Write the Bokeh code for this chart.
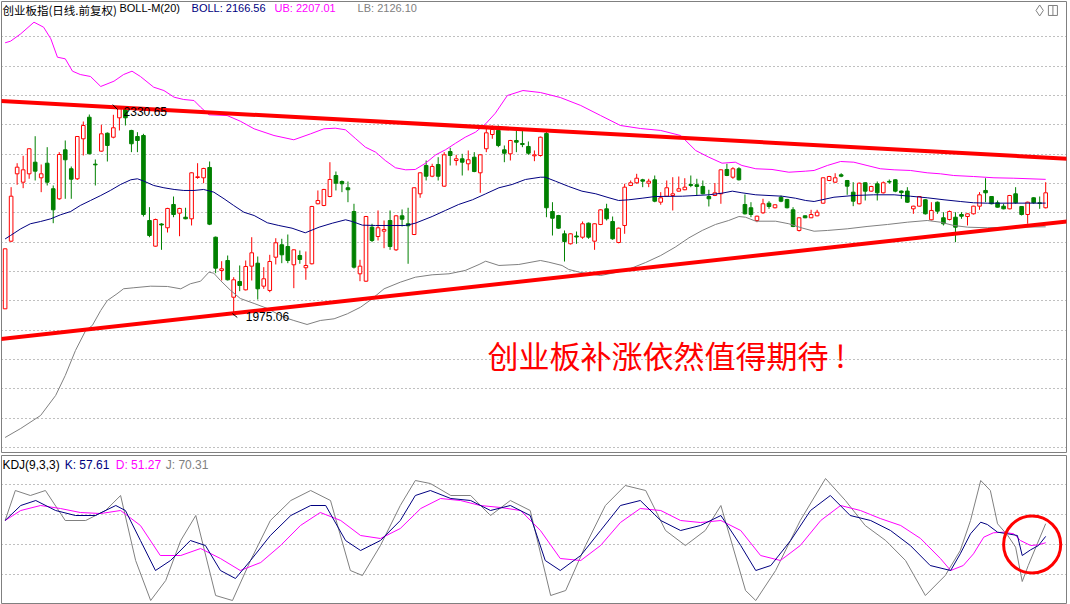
import numpy as np
from bokeh.plotting import figure
from bokeh.layouts import column
from bokeh.models import Range1d, Label, FixedTicker
from bokeh.embed import file_html
from bokeh.resources import INLINE

# ---------------- data (daily candles, ChiNext index) ----------------
opens = [1986.3,2101.6,2216.5,2202.2,2216.5,2236.3,2209.7,2234.6,2191.0,2173.9,
 2257.4,2225.1,2208.0,2276.2,2313.0,2232.9,2255.1,2285.7,2278.9,2312.0,
 2327.4,2290.4,2280.1,2281.8,2136.9,2093.1,2130.9,2124.5,2164.2,2149.4,
 2142.5,2139.8,2210.2,2209.7,2227.3,2108.4,2051.7,2068.7,2006.1,2032.9,
 2018.7,2059.0,2064.1,2024.9,2017.6,2074.3,2095.5,2092.6,2061.4,2077.2,
 2056.3,2063.1,2165.4,2162.5,2177.8,2213.6,2203.4,2192.7,2152.2,2046.0,
 2033.4,2125.5,2109.6,2118.7,2136.9,2086.9,2144.9,2131.3,2113.0,2182.4,
 2230.7,2212.4,2232.4,2195.4,2254.5,2239.2,2242.1,2233.6,2244.8,2218.2,
 2259.2,2283.5,2290.4,2257.4,2250.6,2273.3,2268.2,2263.1,2247.2,2247.7,
 2285.2,2152.2,2145.4,2114.2,2097.2,2110.5,2108.4,2132.3,2101.6,2130.1,
 2156.8,2135.2,2099.4,2128.4,2196.6,2201.2,2206.3,2200.5,2206.3,2168.1,
 2178.3,2179.5,2186.9,2189.3,2198.3,2197.8,2194.9,2177.8,2179.5,2182.4,
 2223.9,2210.7,2225.1,2164.2,2158.6,2136.9,2150.0,2166.4,2158.6,2176.6,
 2172.7,2155.1,2119.9,2144.9,2141.5,2144.9,2166.4,2205.1,2202.2,2214.8,
 2205.1,2185.2,2165.4,2201.2,2186.9,2199.5,2184.1,2203.4,2206.3,2187.1,
 2187.1,2156.8,2161.3,2172.2,2138.1,2168.1,2141.5,2138.6,2142.5,2147.1,
 2143.7,2148.3,2161.3,2188.1,2177.8,2167.1,2161.3,2156.8,2182.4,2160.8,
 2147.1,2175.6,2166.9,2158.6]
highs = [2089.2,2193.7,2234.6,2247.2,2260.0,2280.6,2232.4,2261.9,2196.6,2253.4,
 2273.3,2229.0,2281.0,2305.7,2317.6,2240.9,2300.1,2287.0,2317.1,2330.65,
 2328.5,2291.5,2287.5,2284.7,2159.6,2140.0,2132.3,2158.5,2177.8,2158.5,
 2158.6,2219.3,2234.6,2226.7,2237.5,2109.5,2067.5,2077.2,2040.2,2060.2,
 2068.7,2108.4,2075.5,2057.3,2078.4,2106.7,2105.7,2113.0,2088.0,2085.8,
 2084.1,2161.8,2188.1,2190.8,2236.3,2220.4,2205.1,2203.4,2165.4,2069.9,
 2144.7,2131.3,2154.0,2136.9,2154.0,2145.9,2155.7,2158.6,2193.7,2219.2,
 2239.2,2233.6,2244.8,2253.4,2260.9,2248.9,2250.6,2256.3,2253.4,2250.0,
 2295.0,2298.9,2298.9,2264.8,2274.3,2290.4,2290.4,2271.6,2256.3,2279.9,
 2288.6,2168.1,2146.5,2119.9,2115.2,2118.1,2135.2,2133.4,2132.3,2156.1,
 2165.4,2143.7,2124.8,2199.5,2205.1,2216.5,2208.0,2208.0,2213.6,2185.2,
 2205.1,2210.7,2211.9,2209.0,2213.6,2208.0,2205.1,2189.3,2200.8,2224.3,
 2233.6,2227.8,2227.8,2181.2,2168.1,2145.2,2173.9,2169.8,2164.5,2179.5,
 2173.8,2159.6,2142.5,2145.4,2155.1,2155.1,2210.5,2213.0,2217.5,2217.5,
 2206.0,2202.2,2201.5,2202.0,2196.0,2203.4,2203.4,2206.8,2207.0,2188.0,
 2193.7,2162.0,2178.5,2173.0,2168.1,2169.3,2151.0,2154.0,2151.0,2151.0,
 2149.0,2162.0,2185.2,2209.0,2178.5,2171.0,2165.4,2180.5,2193.7,2161.5,
 2169.0,2176.6,2177.8,2202.2]
lows = [1986.0,2100.0,2197.8,2192.0,2208.0,2205.1,2185.2,2196.6,2132.3,2172.0,
 2173.9,2173.9,2206.0,2247.7,2250.0,2196.6,2254.0,2237.5,2277.0,2290.4,
 2298.9,2253.4,2253.4,2143.7,2108.4,2092.0,2086.9,2116.4,2142.5,2110.1,
 2139.0,2128.4,2208.0,2200.5,2129.0,2047.0,2034.6,2034.6,1975.06,2016.4,
 2017.6,2034.6,2002.2,2020.4,2014.6,2061.9,2064.1,2064.1,2021.5,2063.1,
 2035.8,2062.0,2164.5,2161.3,2176.5,2188.1,2185.2,2168.1,2055.0,2033.4,
 2032.0,2100.0,2102.8,2089.7,2086.9,2085.0,2126.7,2063.1,2112.0,2175.6,
 2205.1,2210.7,2205.1,2194.0,2230.7,2230.7,2213.6,2222.2,2219.2,2184.1,
 2253.4,2276.2,2261.9,2236.3,2239.2,2253.4,2261.9,2248.9,2238.0,2246.0,
 2142.5,2111.3,2122.7,2067.0,2096.0,2097.2,2105.7,2105.7,2086.9,2129.0,
 2136.9,2104.0,2098.0,2114.2,2195.5,2199.5,2193.7,2193.7,2168.0,2163.7,
 2177.0,2154.0,2186.0,2188.5,2193.7,2179.5,2181.5,2160.8,2178.5,2165.4,
 2212.5,2208.0,2205.1,2147.1,2142.5,2134.0,2148.3,2156.8,2157.5,2168.1,
 2157.5,2125.5,2118.1,2140.8,2141.0,2144.0,2165.5,2204.0,2201.0,2210.7,
 2180.7,2161.3,2164.5,2171.0,2186.0,2171.0,2183.0,2199.5,2185.0,2173.9,
 2167.0,2148.3,2160.5,2147.0,2137.0,2148.3,2128.4,2137.0,2100.0,2139.8,
 2128.4,2147.1,2155.1,2168.1,2164.5,2159.0,2156.0,2156.0,2165.4,2145.4,
 2131.3,2165.4,2156.8,2157.5]
closes = [2088.6,2178.3,2227.8,2223.3,2259.2,2221.0,2216.5,2202.2,2155.1,2249.4,
 2240.4,2207.3,2280.1,2298.9,2250.6,2231.9,2284.7,2264.8,2295.0,2327.4,
 2312.0,2267.7,2273.3,2147.1,2111.3,2138.6,2129.2,2157.4,2147.1,2157.4,
 2139.8,2218.2,2211.4,2225.6,2130.6,2055.6,2054.5,2035.8,2035.8,2026.1,
 2058.5,2081.8,2020.4,2037.5,2067.0,2098.9,2078.4,2068.7,2086.9,2070.4,
 2060.2,2160.8,2171.0,2189.8,2206.8,2200.5,2199.5,2189.3,2057.3,2059.0,
 2143.7,2102.8,2124.5,2121.6,2092.6,2144.9,2139.1,2127.9,2192.7,2218.2,
 2212.4,2229.0,2212.4,2248.9,2247.7,2242.1,2236.3,2240.4,2220.4,2248.9,
 2286.4,2292.1,2264.8,2251.6,2273.3,2270.4,2266.5,2251.6,2248.9,2278.9,
 2158.6,2140.8,2123.8,2101.1,2114.2,2108.8,2131.3,2108.4,2131.3,2155.1,
 2139.8,2105.7,2123.8,2193.7,2201.2,2209.0,2203.9,2203.9,2169.8,2175.6,
 2192.7,2182.4,2191.0,2193.7,2196.6,2194.9,2182.4,2173.9,2184.1,2223.3,
 2213.6,2225.1,2206.3,2148.3,2147.1,2144.2,2165.4,2160.8,2163.7,2169.8,
 2158.6,2126.7,2141.5,2141.5,2147.1,2151.0,2209.7,2211.9,2209.7,2212.4,
 2195.4,2169.8,2200.5,2186.9,2194.9,2184.1,2201.2,2202.5,2186.9,2184.4,
 2168.1,2161.3,2177.8,2148.3,2154.0,2152.8,2131.3,2152.2,2125.5,2144.2,
 2148.3,2161.3,2180.7,2184.1,2165.4,2159.6,2156.8,2179.5,2167.1,2147.1,
 2168.1,2167.1,2166.0,2184.1]

# BOLL(20) bands, sampled at candle positions
boll_x = [0,0.9,2.6,4.2,5.9,7.6,9.2,10.9,12.5,14.2,15.9,17.5,19.2,20.9,22.0,23.1,24.7,26.4,28.1,29.7,
 31.4,33.0,34.7,36.4,38.0,39.7,41.4,43.6,45.5,47.7,49.9,52.2,54.4,56.6,57.7,59.4,61.6,66.6,68.2,71.0,
 73.2,75.4,77.7,79.9,82.1,84.3,86.5,89.0,89.8,91.5,93.7,95.9,98.2,100.4,102.0,103.7,105.9,108.1,112.6,117.0,
 119.2,120.9,122.5,124.8,127.0,129.2,131.4,133.1,134.5,137.8,141.1,144.4,147.8,150.5,153.3,156.1,158.8,161.0,163.3,173]
boll_mid = [2105.4,2111.3,2122.7,2131.3,2135.2,2139.8,2146.6,2152.2,2162.5,2171.0,2179.5,2188.1,2198.3,2206.3,2208.0,2203.9,2196.6,2192.7,2189.8,2188.1,
 2188.1,2189.8,2185.2,2173.9,2162.5,2151.0,2145.4,2133.0,2128.4,2123.8,2115.9,2125.5,2132.3,2138.1,2135.2,2128.9,2128.4,2128.4,2132.3,2143.7,
 2154.0,2164.2,2172.2,2182.4,2192.7,2198.3,2206.8,2210.7,2210.7,2203.9,2194.9,2186.9,2182.4,2175.6,2171.0,2172.2,2174.9,2177.8,2178.3,2180.7,
 2183.5,2186.9,2184.1,2180.7,2179.5,2178.3,2174.9,2171.0,2169.3,2176.6,2179.5,2180.7,2180.7,2178.3,2175.6,2172.2,2169.3,2167.1,2166.4,2166.56]

ub_x = [0,0.9,2.6,4.8,6.4,7.6,8.7,10.0,11.2,12.5,14.2,15.9,18.1,19.7,21.1,22.5,24.7,26.4,28.1,29.7,
 31.4,32.5,33.9,36.9,39.1,41.4,44.7,48.0,50.8,53.0,54.9,56.6,58.3,59.9,61.6,63.2,64.9,66.6,68.2,69.9,
 71.6,73.2,74.9,76.5,78.2,79.9,81.5,83.5,86.1,89.0,92.3,95.7,99.0,102.3,105.6,109.0,112.3,114.8,117.0,119.2,
 121.4,122.5,124.8,127.5,130.3,133.1,134.5,136.7,138.9,141.1,143.3,145.5,147.8,150.5,153.3,155.5,157.7,161.0,164.4,167.7,173]
ub = [2439.9,2442.6,2455.2,2475.0,2466.5,2446.7,2415.3,2412.6,2391.5,2385.8,2382.4,2365.4,2374.4,2385.8,2391.5,2382.4,2364.2,2358.5,2347.1,2343.2,
 2341.5,2330.1,2317.1,2315.9,2306.2,2293.2,2281.8,2274.5,2284.7,2293.2,2294.3,2291.5,2276.2,2261.9,2253.4,2239.2,2226.8,2223.3,2223.9,2234.6,
 2248.9,2257.4,2268.7,2278.9,2287.5,2301.8,2319.8,2350.0,2358.5,2355.1,2346.6,2333.0,2315.9,2298.9,2293.8,2290.4,2281.8,2256.3,2244.8,2234.6,
 2236.3,2230.7,2225.1,2223.9,2219.2,2221.0,2222.2,2230.7,2237.5,2236.3,2230.7,2225.1,2223.3,2222.2,2218.2,2216.5,2213.6,2211.9,2209.7,2209.0,2207.01]

lb_x = [0,2.6,5.9,8.4,10.0,11.7,13.4,14.5,15.9,17.0,18.6,19.7,21.4,24.2,27.0,29.2,30.8,32.5,33.9,34.7,
 35.8,37.5,39.1,41.4,43.6,46.3,48.0,50.2,52.4,54.7,56.9,59.1,60.8,63.0,65.7,68.2,71.0,73.8,76.5,78.8,
 79.9,82.1,85.4,89.0,90.4,92.6,93.7,95.7,99.0,101.5,104.0,106.5,109.0,111.4,113.7,115.9,118.1,120.3,122.0,123.1,
 124.8,128.1,130.3,132.5,134.5,136.7,140.0,143.3,146.7,150.0,153.3,155.5,157.7,160.0,163.3,166.6,173]
lb = [1766.9,1782.3,1804.4,1838.5,1872.6,1915.3,1949.4,1957.9,1983.5,2000.5,2011.9,2020.5,2022.2,2024.9,2024.4,2020.4,2029.0,2033.4,2048.8,2047.0,
 2034.6,2017.6,2003.9,1995.4,1986.9,1972.0,1966.4,1959.6,1966.4,1969.3,1977.8,1989.1,2001.7,2020.4,2031.7,2040.2,2044.3,2046.0,2051.7,2061.9,
 2067.5,2060.2,2061.9,2068.7,2065.8,2060.2,2053.4,2048.2,2043.1,2048.2,2055.1,2065.3,2077.2,2091.4,2107.4,2119.9,2130.1,2136.9,2143.7,2142.5,
 2135.7,2135.7,2131.3,2124.1,2118.6,2119.9,2122.7,2126.7,2130.1,2134.0,2136.9,2134.0,2128.4,2125.5,2124.5,2125.5,2126.10]

# hand-drawn trend lines (start / end)
trend_x = [-0.76, 177.1]
trend_upper = [2340.5, 2241.9]
trend_lower = [1934.9, 2136.0]

# KDJ(9,3,3)
k_x = [0,2.6,5.1,8.4,11.7,15,18.4,20,22.5,25,27.5,30.8,33.3,35.8,38.3,40.8,44.1,47.5,50.8,53.3,56.6,59.1,62.4,65.7,68.2,70.7,74.1,77.4,80.7,84,87.3,89.8,92.3,95.7,99,102.3,105.6,109,112.3,115.6,119,122.3,124.8,127.3,130.6,133.9,137.2,140.5,143.9,147.2,150.5,153.8,157.2,158.8,160.5,162.2,163.3,165,166.7,168.3,169.1,170.5,171.8,173]
k_v = [73.5,88.5,93.5,83.5,78.5,78.5,88.5,83.5,53.5,23.5,33.5,53.5,48.5,23.5,15.5,33.5,58.5,78.5,88.5,88.5,53.5,43.5,53.5,73.5,98.5,103.5,95.5,93.5,83.5,88.5,78.5,33.5,23.5,38.5,63.5,88.5,93.5,73.5,63.5,68.5,78.5,48.5,23.5,28.5,53.5,83.5,98.5,78.5,73.5,63.5,48.5,28.5,23.5,40.2,60.2,71.8,69.5,61.8,60.2,58.5,38.5,44.2,48.5,57.61]
d_x = [0,2.6,5.9,9.2,12.5,15.9,19.2,22.5,25.8,29.2,32.5,35.8,39.1,42.5,45.8,49.1,52.4,55.8,59.1,62.4,65.7,69.1,72.4,75.7,79,82.4,85.7,89,92.3,95.7,99,102.3,105.6,109,112.3,115.6,119,122.3,125.6,128.9,132.2,135.6,138.9,142.2,145.5,148.9,152.2,155.5,157.2,159.3,161,162.7,164.3,166,167.7,168.8,170.5,171.8,173]
d_v = [73.5,83.5,88.5,85.5,81.5,80.5,83.5,68.5,38.5,38.5,45.5,35.5,23.5,31.5,48.5,68.5,81.5,73.5,58.5,55.5,65.5,85.5,95.5,93.5,88.5,86.5,83.5,63.5,35.5,33.5,48.5,71.5,85.5,83.5,73.5,71.5,73.5,63.5,38.5,33.5,48.5,73.5,88.5,83.5,75.5,68.5,55.5,35.5,23.5,28.5,40.2,56.8,61.2,61.8,60.2,53.5,48.5,49.2,51.27]
j_x = [0,1.7,4.2,6.7,10,13.4,16.7,19.2,21.7,24.2,26.7,29.2,31.7,35,37.8,40.8,44.1,47.5,50.8,54.1,57.4,59.4,62.4,65.7,68.2,70.7,74.1,77.4,80.7,84,87.3,90.7,93.2,96.5,99.8,103.1,106.5,109.8,113.1,116.4,119,123.1,124.8,128.1,132.2,136.4,139.7,143,146.4,149.7,153,156.3,158.8,160.5,162.2,163.8,165,166.7,168,169.1,170.1,171.6,173]
j_v = [73.5,103.5,98.5,103.5,73.5,73.5,83.5,98.5,33.5,-6.5,13.5,53.5,78.5,-1.5,-6.5,33.5,73.5,93.5,103.5,93.5,23.5,18.5,48.5,88.5,113.5,110.5,98.5,98.5,78.5,93.5,83.5,-1.5,3.5,48.5,88.5,108.5,103.5,63.5,48.5,63.5,88.5,3.5,-6.5,23.5,73.5,115.5,93.5,68.5,53.5,33.5,-1.5,18.5,43.5,73.5,113.5,103.5,70.2,58.5,46.8,12.5,28.5,50.2,70.31]

price_grid = [1750, 1800, 1850, 1900, 1950, 2000, 2050, 2100, 2150, 2200, 2250, 2300, 2350, 2400, 2450]
kdj_grid = [20, 50, 80, 110]

# ---------------- styling constants ----------------
RED = "#FF0000"
GREEN = "#008000"
NAVY = "#000080"
MAGENTA = "#FF00FF"
GRAY = "#808080"
CJK = "Noto Sans CJK SC"
LAT = "Liberation Sans"

X0, X1 = -0.6, 176.46

def base_fig(h, yr, top):
    f = figure(width=1070, height=h, x_range=Range1d(X0, X1), y_range=yr,
               output_backend="svg", toolbar_location=None,
               min_border_left=1, min_border_right=4, min_border_top=top, min_border_bottom=0)
    f.axis.visible = False
    f.xgrid.visible = False
    f.ygrid.grid_line_color = GRAY
    f.ygrid.grid_line_dash = "1 3"
    f.outline_line_color = GRAY
    f.outline_line_width = 1
    f.background_fill_color = "white"
    f.border_fill_color = "white"
    return f

p = base_fig(453, Range1d(1739.6, 2510.3), 1)
p.ygrid.ticker = FixedTicker(ticks=price_grid)

o = np.array(opens); h = np.array(highs); l = np.array(lows); c = np.array(closes)
x = np.arange(len(o))
up = c >= o
dn = ~up
minb = 1.2
top = np.maximum(o, c); bot = np.minimum(o, c)
tiny = (top - bot) < minb
mid = (top + bot) / 2
top = np.where(tiny, mid + minb / 2, top)
bot = np.where(tiny, mid - minb / 2, bot)

# down candles: solid green
p.segment(x0=x[dn], y0=h[dn], x1=x[dn], y1=l[dn], line_color=GREEN, line_width=1)
p.vbar(x=x[dn], width=0.6, top=top[dn], bottom=bot[dn], fill_color=GREEN, line_color=GREEN, line_width=1)
# up candles: hollow red
p.segment(x0=x[up], y0=h[up], x1=x[up], y1=top[up], line_color=RED, line_width=1)
p.segment(x0=x[up], y0=bot[up], x1=x[up], y1=l[up], line_color=RED, line_width=1)
p.vbar(x=x[up], width=0.6, top=top[up], bottom=bot[up], fill_color="white", line_color=RED, line_width=1)

# BOLL
p.line(boll_x, boll_mid, line_color=NAVY, line_width=1)
p.line(ub_x, ub, line_color=MAGENTA, line_width=1)
p.line(lb_x, lb, line_color=GRAY, line_width=1)

# trend lines
p.line(trend_x, trend_upper, line_color=RED, line_width=4)
p.line(trend_x, trend_lower, line_color=RED, line_width=4)

# high / low markers
p.segment(x0=[17.9], y0=[2334.5], x1=[18.7], y1=[2326.0], line_color="black", line_width=1)
p.add_layout(Label(x=19.7, y=2322.5, text="2330.65", text_font=LAT, text_font_size="12px",
                   text_color="black", text_baseline="middle"))
p.segment(x0=[37.8], y0=[1978.3], x1=[38.6], y1=[1971.5], line_color="black", line_width=1)
p.add_layout(Label(x=40.0, y=1973.2, text="1975.06", text_font=LAT, text_font_size="12px",
                   text_color="black", text_baseline="middle"))

# titles
ty = 2509.0
p.add_layout(Label(x=-0.45, y=ty, text="创业板指(日线.前复权)", text_font=CJK,
                   text_font_size="11.5px", text_color="black", text_baseline="top"))
p.add_layout(Label(x=19.0, y=ty, text="BOLL-M(20)", text_font=LAT,
                   text_font_size="11px", text_color="black", text_baseline="top"))
p.add_layout(Label(x=31.0, y=ty, text="BOLL: 2166.56", text_font=LAT, text_font_size="11px",
                   text_color=NAVY, text_baseline="top"))
p.add_layout(Label(x=44.8, y=ty, text="UB: 2207.01", text_font=LAT, text_font_size="11px",
                   text_color=MAGENTA, text_baseline="top"))
p.add_layout(Label(x=58.6, y=ty, text="LB: 2126.10", text_font=LAT, text_font_size="11px",
                   text_color=GRAY, text_baseline="top"))

# comment text
p.add_layout(Label(x=80.2, y=1908.0, text="创业板补涨依然值得期待 !", text_font=CJK,
                   text_font_size="31px", text_color=RED, text_baseline="middle"))

# small window icons
p.scatter(x=[172.0], y=[2495.0], marker="diamond", size=11, fill_color=None, line_color=GRAY)
p.rect(x=[174.2], y=[2495.0], width=1.5, height=17, fill_color=None, line_color=GRAY)
p.segment(x0=[174.2], y0=[2486.5], x1=[174.2], y1=[2503.5], line_color=GRAY)

# ---------------- KDJ panel ----------------
q = base_fig(151, Range1d(-10.5, 138.5), 2)
q.ygrid.ticker = FixedTicker(ticks=kdj_grid)
q.line(j_x, j_v, line_color=GRAY, line_width=1)
q.line(d_x, d_v, line_color=MAGENTA, line_width=1)
q.line(k_x, k_v, line_color=NAVY, line_width=1)
q.ellipse(x=[170.75], y=[49.5], width=9.5, height=57, fill_color=None, line_color=RED, line_width=3)

ky = 136.5
q.add_layout(Label(x=-0.45, y=ky, text="KDJ(9,3,3)", text_font=LAT, text_font_size="12px",
                   text_color="black", text_baseline="top"))
q.add_layout(Label(x=9.9, y=ky, text="K: 57.61", text_font=LAT, text_font_size="12px",
                   text_color=NAVY, text_baseline="top"))
q.add_layout(Label(x=18.4, y=ky, text="D: 51.27", text_font=LAT, text_font_size="12px",
                   text_color=MAGENTA, text_baseline="top"))
q.add_layout(Label(x=26.7, y=ky, text="J: 70.31", text_font=LAT, text_font_size="12px",
                   text_color=GRAY, text_baseline="top"))

layout = column(p, q, spacing=0)
open("out.html", "w").write(file_html(layout, INLINE))
